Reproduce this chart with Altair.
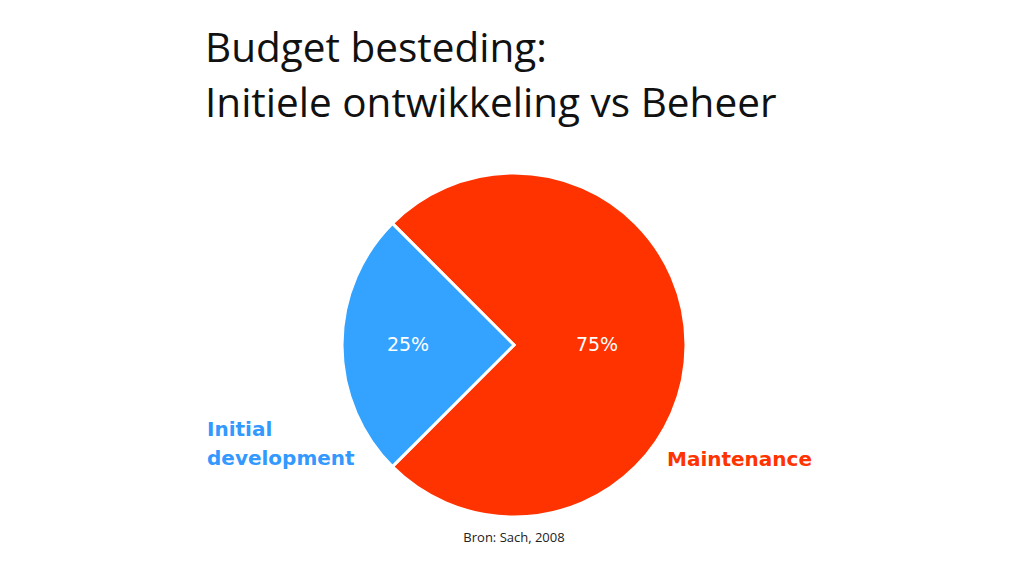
import math
import altair as alt
import pandas as pd

# data
categories = ["Maintenance", "Initial development"]
shares = [75, 25]
slice_order = [0, 1]
pct_labels = ["75%", "25%"]
title_lines = ["Budget besteding:", "Initiele ontwikkeling vs Beheer"]
source_note = "Bron: Sach, 2008"

colors = ["#FF3300", "#33A3FF"]

df = pd.DataFrame({"cat": categories, "share": shares, "ord": slice_order, "pct": pct_labels})

CX, CY, R = 506, 337, 172
theta_scale = alt.Scale(domain=[0, 100], range=[-math.pi / 4, 7 * math.pi / 4])

pie = alt.Chart(df).mark_arc(outerRadius=R, stroke="white", strokeWidth=3).encode(
    theta=alt.Theta("share:Q", stack=True, scale=theta_scale),
    order=alt.Order("ord:Q"),
    color=alt.Color("cat:N", scale=alt.Scale(domain=categories, range=colors), legend=None),
    x=alt.value(CX),
    y=alt.value(CY),
)

lbl_base = alt.Chart(df).transform_window(
    cum="sum(share)", sort=[alt.SortField("ord")]
).transform_calculate(mid="datum.cum - datum.share / 2")


def pct_layer(cat, radius):
    return lbl_base.transform_filter(alt.datum.cat == cat).mark_text(
        radius=radius, color="white", fontSize=19, font="DejaVu Sans"
    ).encode(
        theta=alt.Theta("mid:Q", scale=theta_scale),
        text="pct:N",
        x=alt.value(CX),
        y=alt.value(CY),
    )


lbl_big = pct_layer("Maintenance", 83)
lbl_small = pct_layer("Initial development", 106)

title = alt.Chart(pd.DataFrame({"t": [0]})).mark_text(
    align="left", baseline="alphabetic", fontSize=40.5, font="Open Sans", color="#111111",
    lineHeight=55, text=title_lines
).encode(x=alt.value(197), y=alt.value(54))

cat_label_df = pd.DataFrame({"cat": categories})
init_lbl = alt.Chart(cat_label_df).transform_filter(
    alt.datum.cat == "Initial development"
).mark_text(
    align="left", baseline="alphabetic", fontSize=20, font="DejaVu Sans", fontWeight="bold",
    color="#3399FF", lineHeight=29, text=["Initial", "development"]
).encode(x=alt.value(199), y=alt.value(428))

maint_lbl = alt.Chart(cat_label_df).transform_filter(
    alt.datum.cat == "Maintenance"
).mark_text(
    align="left", baseline="alphabetic", fontSize=20, font="DejaVu Sans", fontWeight="bold",
    color="#FF3300"
).encode(text="cat:N", x=alt.value(659), y=alt.value(458))

src = alt.Chart(pd.DataFrame({"s": [source_note]})).mark_text(
    align="center", baseline="middle", fontSize=13, font="Open Sans", color="#222222"
).encode(text="s:N", x=alt.value(506), y=alt.value(530))

chart = alt.layer(pie, lbl_big, lbl_small, title, init_lbl, maint_lbl, src).properties(
    width=1008, height=560, padding=0,
    autosize=alt.AutoSizeParams(type="fit", contains="padding"),
).configure_view(strokeOpacity=0, strokeWidth=0)

chart.save("out.html", embed_options={"renderer": "svg", "actions": False})
